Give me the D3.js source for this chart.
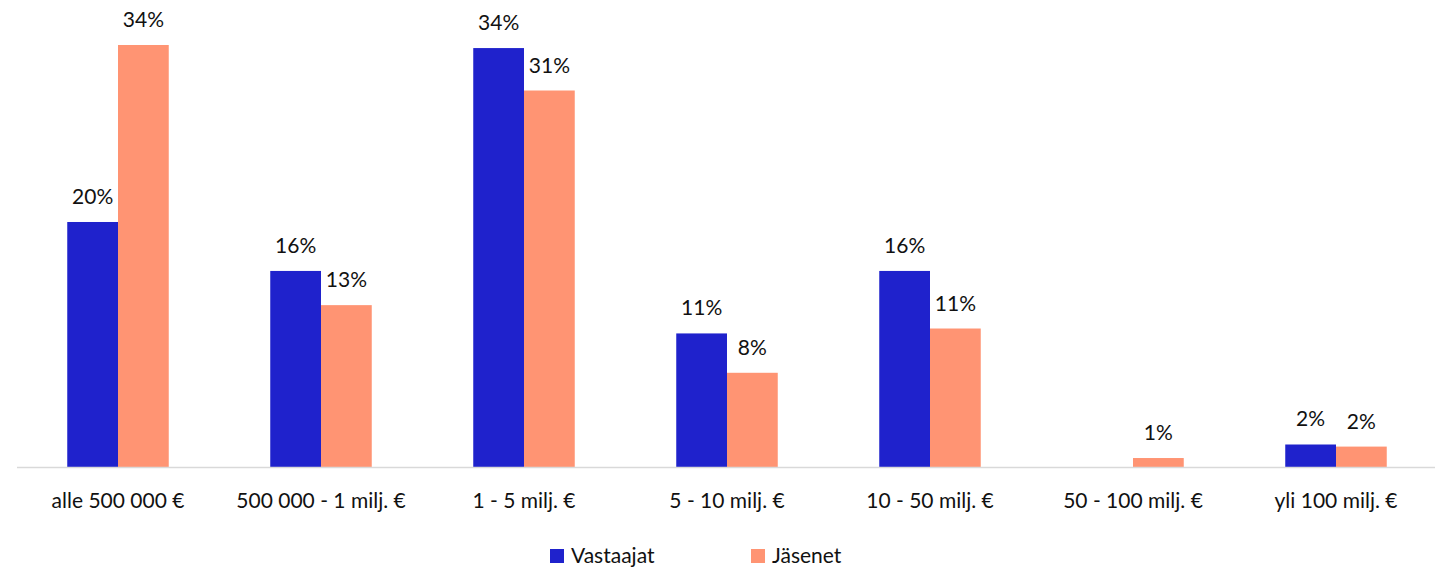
<!DOCTYPE html>
<html><head><meta charset="utf-8">
<script src="https://cdn.jsdelivr.net/npm/d3@7"></script>
<style>body{margin:0;background:#fff;} text{font-family:Lato,"Open Sans",sans-serif;fill:#111;}</style>
</head><body><svg id="c" width="1445" height="568"></svg>
<script>
const categories = ["alle 500 000 €","500 000 - 1 milj. €","1 - 5 milj. €","5 - 10 milj. €","10 - 50 milj. €","50 - 100 milj. €","yli 100 milj. €"];
const seriesNames = ["Vastaajat","Jäsenet"];
const vastaajat = [19.96, 15.98, 34.1, 10.9, 15.98, 0, 1.87];
const jasenet   = [34.35, 13.2, 30.65, 7.7, 11.3, 0.77, 1.7];
const colors = ["#1F22CC","#FF9473"];

const svg = d3.select("#c");
const baseY = 467.5;
const x0 = d3.scaleBand().domain(categories).range([16.5,1437.5]).paddingInner(0.5).paddingOuter(0.25);
const x1 = d3.scaleBand().domain(seriesNames).range([0,x0.bandwidth()]);
const y = d3.scaleLinear().domain([0,10]).range([baseY, baseY-123]);

const data = categories.map((c,i)=>({c, vals:[vastaajat[i], jasenet[i]]}));
const g = svg.append("g");
data.forEach(d=>{
  d.vals.forEach((v,j)=>{
    if(v<=0) return;
    const xp = x0(d.c)+x1(seriesNames[j]);
    g.append("rect").attr("x",xp).attr("width",x1.bandwidth()).attr("y",y(v)).attr("height",baseY-y(v)).attr("fill",colors[j]);
    g.append("text").attr("x",xp+x1.bandwidth()/2).attr("y",y(v)-18).attr("text-anchor","middle").attr("font-size",21).text(Math.round(v)+"%");
  });
});
// axis
const ax = svg.append("g").attr("transform",`translate(0,${baseY})`).call(d3.axisBottom(x0).tickSize(0).tickPadding(0));
ax.select(".domain").attr("stroke","#d9d9d9").attr("stroke-width",1.5).attr("d","M17,0H1435");
ax.selectAll(".tick text").attr("font-size",21).attr("dy",null).attr("y",40).attr("font-family","Lato, 'Open Sans', sans-serif").attr("fill","#111");
// legend
const leg = [{x:550},{x:751}];
seriesNames.forEach((s,i)=>{
  svg.append("rect").attr("x",leg[i].x).attr("y",549).attr("width",14).attr("height",14).attr("fill",colors[i]);
  svg.append("text").attr("x",leg[i].x+21).attr("y",563).attr("font-size",21).text(s);
});
</script></body></html>
